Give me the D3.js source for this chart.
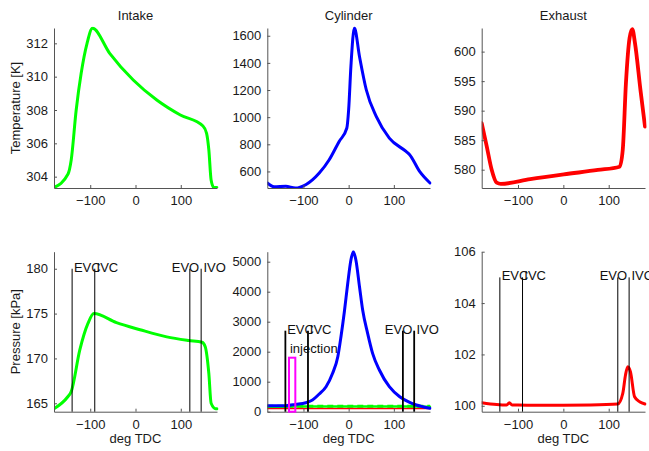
<!DOCTYPE html>
<html><head><meta charset="utf-8">
<script src="https://cdn.jsdelivr.net/npm/d3@7"></script>
<style>
body{margin:0;background:#fff}
svg{display:block;font-family:"Liberation Sans",Arial,Helvetica,sans-serif}
</style></head><body>
<svg id="c" width="649" height="451"></svg>
<script>
// ---------------- data ----------------
const xTicks = [-100, 0, 100];
const titles = ["Intake", "Cylinder", "Exhaust"];
const yLabels = ["Temperature [K]", "Pressure [kPa]"];
const xLabel = "deg TDC";

const intakeTempDeg = [-180,-149,-142,-131,-120,-107,-95,-57,-5,47,99,149,157,162,167,173,180];
const intakeTempVal = [303.35,304.16,305.0,308.0,310.2,312.0,312.9,311.4,309.8,308.6,307.7,307.04,306.6,305.6,303.8,303.35,303.35];
const intakeTempTicks = [304,306,308,310,312];

const cylTempDeg = [-180,-165,-139,-118,-95,-65,-43,-21,-4,0,5,12.7,24,39,61,90,127,135,157,180];
const cylTempVal = [515,487,490,478,502,588,686,821,920,1055,1374,1657,1447,1202,1005,846,747,723,600,515];
const cylTempTicks = [600,800,1000,1200,1400,1600];

const exhTempDeg = [-180,-169,-158,-147,-138,-73,1,76,124,131,138,146,152,158,170,180];
const exhTempVal = [587.9,584.0,580.0,577.8,577.6,578.4,579.2,579.95,580.5,583.4,594.7,602.3,603.8,601.4,593.5,587.3];
const exhTempTicks = [580,585,590,595,600];

const intakePresDeg = [-180,-150,-142,-123,-105,-92,-42,10,69,117,147,154,162,167,177,180];
const intakePresVal = [164.4,165.7,166.3,170.95,173.9,175.0,173.99,173.2,172.4,172.0,171.8,171.3,168.3,165.0,164.4,164.4];
const intakePresTicks = [165,170,175,180];

const cylPresDeg = [-180,-139,-117,-95,-80,-65,-50,-35.5,-24,-17,-9.5,-2,5,10.4,16,24,31,42,53,68,90,113,135,150,164,180];
const cylPresVal = [200,200,244,300,390,590,833,1280,1833,2500,3333,4280,5057,5333,5057,4167,3390,2613,1946,1390,833,500,313,223,167,113];
const cylPresTicks = [0,1000,2000,3000,4000,5000];
const cylGreenDashDeg = [-180,180];
const cylGreenDashVal = [205,205];
const cylRedDashDeg = [-180,180];
const cylRedDashVal = [125,125];

const exhPresDeg = [-180,-147,-125,-119,-113,-100,-60,0,60,120,131,137,142,148,157,168,180];
const exhPresVal = [100.12,100.05,100.03,100.12,100.03,100.03,100.02,100.02,100.03,100.07,100.48,101.2,101.52,101.32,100.35,100.16,100.07];
const exhPresTicks = [100,102,104,106];

const eventNames = ["EVC","IVC","EVO","IVO"];
const eventDeg = [-140,-90,120,145];
const eventLabelDeg = [-136,-86,80,150];
const eventTop = [180, 2700, 105];   // intake, cylinder, exhaust pressure panels

const injStart = -132, injEnd = -118, injHeight = 1800, injLabelVal = 2000;
const injLabel = "injection";

// ---------------- layout ----------------
const svg = d3.select("#c");
const colX = [[54,217],[267.3,430],[481.7,645]];
const rowY = [[28,188],[251.7,411.7]];
const yDomains = [
  [[303.32,312.92],[478,1657],[576.9,604]],
  [[164.06,181.9],[0,5333],[99.77,106]]
];
const yTicksAll = [[intakeTempTicks,cylTempTicks,exhTempTicks],[intakePresTicks,cylPresTicks,exhPresTicks]];
const FONT = 13;
const GREEN = "#00ff00", BLUE = "#0000ff", RED = "#ff0000", MAG = "#ff00ff";
const fmt = d3.format("d");

const panels = [];
for (let r = 0; r < 2; r++) {
  panels.push([]);
  for (let c = 0; c < 3; c++) {
    const x = d3.scaleLinear().domain([-180,180]).range(colX[c]);
    const y = d3.scaleLinear().domain(yDomains[r][c]).range([rowY[r][1], rowY[r][0]]);
    const id = `clip${r}${c}`;
    svg.append("clipPath").attr("id", id).append("rect")
      .attr("x", colX[c][0]).attr("y", rowY[r][0] - 1.5)
      .attr("width", colX[c][1] - colX[c][0] + 1.5).attr("height", rowY[r][1] - rowY[r][0] + 1.5);
    const g = svg.append("g");
    const plot = g.append("g").attr("clip-path", `url(#${id})`);
    const ax = g.append("g").attr("transform", `translate(0,${rowY[r][1]})`)
      .call(d3.axisBottom(x).tickValues(xTicks).tickFormat(fmt).tickSizeInner(-3).tickSizeOuter(0).tickPadding(8));
    const ay = g.append("g").attr("transform", `translate(${colX[c][0]},0)`)
      .call(d3.axisLeft(y).tickValues(yTicksAll[r][c]).tickFormat(fmt).tickSizeInner(-3).tickSizeOuter(0).tickPadding(6));
    [ax, ay].forEach(a => {
      a.selectAll("path.domain").attr("stroke", "#555").attr("stroke-width", 1);
      a.selectAll(".tick line").attr("stroke", "#555");
      a.selectAll("text").attr("font-size", FONT).attr("fill", "#1a1a1a")
        .attr("font-family", '"Liberation Sans",Arial,Helvetica,sans-serif');
    });
    panels[r].push({x, y, g, plot});
  }
}

titles.forEach((t, c) => {
  svg.append("text").attr("x", (colX[c][0] + colX[c][1]) / 2).attr("y", 19.5)
    .attr("text-anchor", "middle").attr("font-size", FONT).attr("fill", "#1a1a1a").text(t);
  svg.append("text").attr("x", (colX[c][0] + colX[c][1]) / 2).attr("y", 443)
    .attr("text-anchor", "middle").attr("font-size", FONT).attr("fill", "#1a1a1a").text(xLabel);
});
yLabels.forEach((t, r) => {
  svg.append("text").attr("transform", `translate(19.5,${(rowY[r][0] + rowY[r][1]) / 2}) rotate(-90)`)
    .attr("text-anchor", "middle").attr("font-size", FONT).attr("fill", "#1a1a1a").text(t);
});

function drawLine(p, xs, ys, color, width, dash) {
  const line = d3.line().x(d => p.x(d[0])).y(d => p.y(d[1])).curve(d3.curveMonotoneX);
  const path = p.plot.append("path").datum(xs.map((v, i) => [v, ys[i]]))
    .attr("d", line).attr("fill", "none").attr("stroke", color)
    .attr("stroke-width", width).attr("stroke-linejoin", "round").attr("stroke-linecap", "round");
  if (dash) path.attr("stroke-dasharray", dash).attr("stroke-linecap", "butt");
}

drawLine(panels[0][0], intakeTempDeg, intakeTempVal, GREEN, 3);
drawLine(panels[0][1], cylTempDeg, cylTempVal, BLUE, 3);
drawLine(panels[0][2], exhTempDeg, exhTempVal, RED, 3.8);

drawLine(panels[1][0], intakePresDeg, intakePresVal, GREEN, 3);
const pc = panels[1][1];
drawLine(pc, cylRedDashDeg, cylRedDashVal, RED, 1.3, "6,4");
drawLine(pc, cylGreenDashDeg, cylGreenDashVal, GREEN, 1.8, "6,4");
drawLine(pc, intakePresDeg, intakePresVal, GREEN, 2.5);
drawLine(pc, exhPresDeg, exhPresVal, RED, 1.3);
drawLine(pc, cylPresDeg, cylPresVal, BLUE, 3);
drawLine(panels[1][2], exhPresDeg, exhPresVal, RED, 3);

[0,1,2].forEach(c => {
  const p = panels[1][c];
  const yb = p.y.domain()[0];
  eventDeg.forEach((d, i) => {
    p.g.append("line").attr("x1", p.x(d)).attr("x2", p.x(d))
      .attr("y1", p.y(yb)).attr("y2", p.y(eventTop[c]))
      .attr("stroke", "#000").attr("stroke-width", c === 1 ? 1.8 : 1);
  });
  eventDeg.forEach((d, i) => {
    p.g.append("text").attr("x", p.x(eventLabelDeg[i])).attr("y", p.y(eventTop[c]) + 3)
      .attr("font-size", FONT).attr("fill", "#111").text(eventNames[i]);
  });
});

pc.g.append("rect").attr("x", pc.x(injStart)).attr("y", pc.y(injHeight))
  .attr("width", pc.x(injEnd) - pc.x(injStart)).attr("height", pc.y(0) - pc.y(injHeight))
  .attr("fill", "none").attr("stroke", MAG).attr("stroke-width", 2);
pc.g.append("text").attr("x", pc.x(injStart) + 1).attr("y", pc.y(injLabelVal) + 1)
  .attr("font-size", FONT).attr("fill", "#111").text(injLabel);
</script>
</body></html>
